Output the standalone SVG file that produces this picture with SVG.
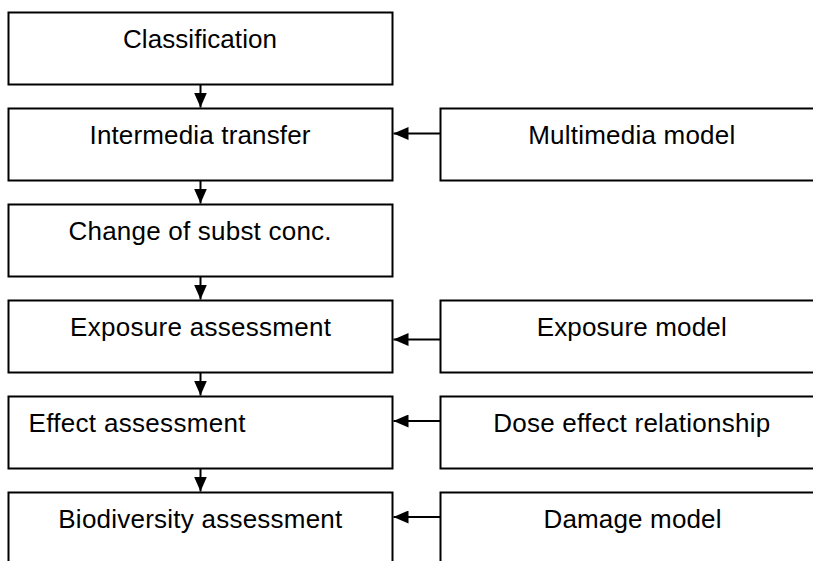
<svg xmlns="http://www.w3.org/2000/svg" width="813" height="561" viewBox="0 0 813 561">
<defs>
<style>
.box{fill:#fff;stroke:#000;stroke-width:2}
.lbl{font-family:"Liberation Sans",Arial,sans-serif;font-size:26px;fill:#000}
.c{text-anchor:middle}
.conn line{stroke:#000;stroke-width:2}
</style>
<marker id="ah" viewBox="0 0 15 13" refX="15" refY="6.5" markerWidth="15" markerHeight="13" markerUnits="userSpaceOnUse" orient="auto">
<path d="M0,0 L15,6.5 L0,13 z" fill="#000"/>
</marker>
</defs>
<rect width="813" height="561" fill="#fff"/>
<g id="classification"><rect class="box" x="8.5" y="12.5" width="384" height="72"/><text class="lbl c" x="200" y="47.5" textLength="154">Classification</text></g>
<g id="intermedia"><rect class="box" x="8.5" y="108.5" width="384" height="72"/><text class="lbl c" x="200" y="143.5" textLength="221">Intermedia transfer</text></g>
<g id="change"><rect class="box" x="8.5" y="204.5" width="384" height="72"/><text class="lbl c" x="200" y="240" textLength="263">Change of subst conc.</text></g>
<g id="exposure"><rect class="box" x="8.5" y="300.5" width="384" height="72"/><text class="lbl c" x="200.5" y="335.5" textLength="261">Exposure assessment</text></g>
<g id="effect"><rect class="box" x="8.5" y="396.5" width="384" height="72"/><text class="lbl" x="28.5" y="431.5" textLength="217">Effect assessment</text></g>
<g id="biodiversity"><rect class="box" x="8.5" y="492.5" width="384" height="100"/><text class="lbl c" x="200.3" y="527.5" textLength="284">Biodiversity assessment</text></g>
<g id="multimedia"><rect class="box" x="440.5" y="108.5" width="384" height="72"/><text class="lbl c" x="631.7" y="143.5" textLength="207">Multimedia model</text></g>
<g id="exposuremodel"><rect class="box" x="440.5" y="300.5" width="384" height="72"/><text class="lbl c" x="631.7" y="335.5" textLength="190">Exposure model</text></g>
<g id="dose"><rect class="box" x="440.5" y="396.5" width="384" height="72"/><text class="lbl c" x="631.7" y="431.5" textLength="277">Dose effect relationship</text></g>
<g id="damage"><rect class="box" x="440.5" y="492.5" width="384" height="100"/><text class="lbl c" x="632.5" y="527.5" textLength="178">Damage model</text></g>
<g id="connectors" class="conn">
<line x1="200.5" y1="85" x2="200.5" y2="107.5" marker-end="url(#ah)"/>
<line x1="200.5" y1="181" x2="200.5" y2="203.5" marker-end="url(#ah)"/>
<line x1="200.5" y1="277" x2="200.5" y2="299.5" marker-end="url(#ah)"/>
<line x1="200.5" y1="373" x2="200.5" y2="395.5" marker-end="url(#ah)"/>
<line x1="200.5" y1="469" x2="200.5" y2="491.5" marker-end="url(#ah)"/>
<line x1="440" y1="133.5" x2="393.5" y2="133.5" marker-end="url(#ah)"/>
<line x1="440" y1="339.5" x2="393.5" y2="339.5" marker-end="url(#ah)"/>
<line x1="440" y1="421" x2="393.5" y2="421" marker-end="url(#ah)"/>
<line x1="440" y1="517" x2="393.5" y2="517" marker-end="url(#ah)"/>
</g>
</svg>
